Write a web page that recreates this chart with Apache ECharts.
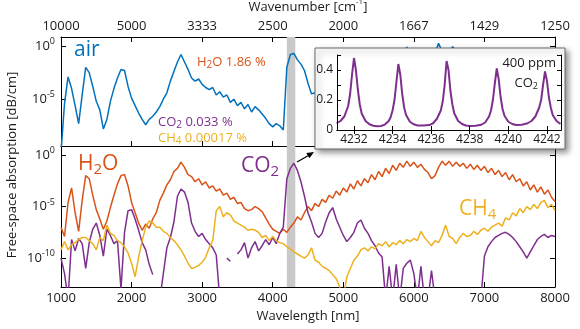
<!DOCTYPE html>
<html>
<head>
<meta charset="utf-8">
<script src="https://cdn.jsdelivr.net/npm/echarts@6/dist/echarts.min.js"></script>
<style>
  html, body { margin: 0; padding: 0; background: #fff; }
  #chart { width: 580px; height: 329px; }
</style>
</head>
<body>
<div id="chart"></div>
<script>
const FONT = '"Open Sans", "Noto Sans", sans-serif';
const INK = '#1a1a1a';

// Sampling grid of the broadband spectra: 1000–8000 nm in 50 nm steps
const wavelength = [];
for (let w = 1000; w <= 8000; w += 50) wavelength.push(w);

// log10 of free-space absorption [dB/cm]; one row per 1000 nm (20 samples), last row = 8000 nm
const airLog10 = [
  -10.0, -5.4, -2.9, -4.0, -5.6, -7.3, -4.6, -2.0, -2.5, -3.8, -5.2, -6.0, -7.8, -6.9, -5.2, -4.0, -3.0, -2.2, -2.3, -3.8,
  -4.9, -5.6, -6.3, -6.9, -7.4, -6.9, -6.6, -6.2, -5.7, -5.0, -4.4, -3.3, -2.4, -1.5, -0.8, -1.5, -2.2, -3.0, -3.3, -3.1,
  -3.6, -3.9, -4.1, -3.9, -4.6, -4.3, -4.8, -4.6, -5.3, -5.0, -5.6, -5.3, -5.9, -5.5, -6.2, -5.7, -6.0, -6.4, -6.8, -7.3,
  -7.6, -7.3, -7.5, -7.9, -2.0, -0.8, -0.7, -1.3, -1.7, -2.3, -3.5, -4.5, -4.4, -4.0, -3.7, -3.8, -3.2, -3.5, -2.9, -3.2,
  -2.6, -3.0, -2.3, -2.7, -2.0, -2.5, -1.8, -2.2, -1.5, -1.9, -1.2, -1.6, -0.9, -1.4, -0.7, -1.1, -0.6, -0.9, -0.1, -0.7,
  -0.5, -0.9, -0.6, -1.0, -1.4, -1.9, -0.6, 0.25, -0.5, -0.7, -0.5, -0.05, -0.5, -0.8, -0.6, -1.0, -0.7, -1.1, -0.8, -1.2,
  -0.9, -1.4, -1.0, -1.6, -1.2, -1.8, -1.4, -2.1, -1.6, -2.3, -2.0, -2.7, -2.3, -3.1, -2.6, -3.3, -2.8, -3.5, -3.1, -3.8,
  -4.2
];
const h2oLog10 = [
  -7.0, -7.9, -4.6, -3.2, -5.6, -7.4, -4.4, -2.0, -2.3, -3.9, -5.3, -6.2, -7.2, -6.4, -5.1, -3.9, -2.8, -2.0, -1.9, -3.0,
  -4.6, -5.6, -6.6, -7.3, -6.7, -7.1, -6.2, -5.6, -4.4, -3.7, -2.9, -2.4, -1.6, -1.3, -0.7, -1.2, -1.9, -2.1, -2.6, -2.3,
  -2.9, -2.6, -3.2, -3.0, -3.5, -3.3, -3.9, -3.7, -4.3, -4.1, -4.7, -4.6, -5.2, -5.4, -5.3, -5.0, -5.2, -5.5, -6.1, -6.7,
  -7.2, -7.4, -7.6, -7.2, -7.5, -7.0, -6.6, -6.0, -6.3, -5.6, -5.0, -5.4, -4.7, -5.0, -4.3, -4.6, -3.9, -4.2, -3.5, -3.9,
  -3.2, -3.6, -2.8, -3.3, -2.5, -3.0, -2.3, -2.7, -1.9, -2.4, -1.6, -2.1, -1.3, -1.8, -1.0, -1.5, -0.8, -1.2, -0.6, -1.1,
  -0.7, -1.2, -0.9, -1.4, -1.7, -2.3, -2.0, -1.2, -0.6, -1.0, -0.6, -1.1, -0.7, -1.1, -0.8, -1.3, -0.9, -1.4, -1.0, -1.5,
  -1.1, -1.7, -1.3, -1.9, -1.5, -2.1, -1.7, -2.4, -1.9, -2.6, -2.3, -3.0, -2.6, -3.4, -2.9, -3.6, -3.1, -3.8, -3.4, -4.1,
  -4.5
];
// null = no data (line broken); values far below the axis run off the bottom edge
const co2Log10 = [
  -10.0, -11.5, -14, -8.2, -9.3, -8.1, -8.6, -11.0, -8.5, -7.2, -6.6, -7.8, -9.8, -7.2, -7.8, -8.6, -8.3, -13, -7.5, -5.4,
  -5.3, -6.2, -7.3, -8.5, -9.2, -10.6, -11.6, null, -14, -11.5, -9.0, -8.0, -6.5, -4.0, -3.3, -3.6, -4.6, -6.6, -7.4, -7.9,
  -7.6, -8.2, -8.6, -9.0, -9.7, -14, null, -10.0, -10.3, null, -9.6, -9.2, -8.5, -10.0, -9.0, -8.4, -9.3, -8.8, -8.2, -8.7,
  -8.0, -8.6, -7.6, -7.0, -2.3, -1.3, -0.8, -1.5, -2.6, -4.0, -5.6, -6.5, -7.6, -8.0, -7.6, -6.5, -5.6, -5.1, -6.2, -7.0,
  -7.8, -8.4, -8.0, -7.5, -6.6, -6.3, -7.1, -7.6, -8.3, -8.8, -9.5, -9.9, -14, -10.8, -14, -10.6, -14, -11.0, -10.5, -10.2,
  -11.5, -14, -10.8, -14, -14, -11.2, -14, null, null, null, null, null, null, null, null, null, null, null, null, -14,
  -9.8, -8.9, -8.4, -8.0, -7.8, -7.6, -7.5, -7.7, -8.0, -8.4, -8.9, -9.4, -10.0, -9.4, -8.8, -8.2, -7.9, -7.7, -8.0, -7.8,
  -7.9
];
const ch4Log10 = [
  -9.2, -8.4, -9.2, -8.7, -8.5, -8.2, -8.0, -8.0, -8.3, -8.6, -9.2, -8.0, -8.3, -6.8, -7.6, -7.8, -8.3, -8.5, -8.9, -9.5,
  -10.5, -11.8, -9.9, -8.3, -7.0, -6.4, -6.6, -7.0, -7.0, -7.4, -7.6, -8.0, -8.3, -8.7, -9.2, -9.8, -10.5, -11.0, -10.9, -10.7,
  -10.4, -9.9, -9.0, -8.3, -5.4, -5.0, -6.0, -5.6, -5.8, -6.4, -6.6, -6.8, -7.0, -7.3, -7.2, -7.3, -7.5, -8.0, -7.8, -8.3,
  -7.9, -8.3, -8.5, -8.6, -8.9, -9.1, -9.4, -9.6, -9.8, -10.0, -9.7, -9.0, -10.2, -10.4, -10.8, -11.0, -11.2, -11.6, -12.0, -12.8,
  -14, -11.8, -11.0, -10.2, -9.8, -9.2, -9.0, -9.3, -8.9, -9.1, -8.6, -8.8, -8.4, -8.9, -8.5, -8.7, -8.3, -8.6, -8.2, -8.4,
  -8.1, -8.3, -7.4, -8.0, -8.4, -8.8, -8.3, -8.5, -7.8, -6.8, -7.9, -8.1, -8.6, -8.0, -7.6, -7.9, -7.8, -7.4, -7.7, -7.3,
  -7.1, -7.4, -7.0, -6.8, -6.6, -6.9, -6.1, -6.3, -5.6, -5.9, -5.2, -5.6, -5.0, -5.3, -4.8, -5.2, -4.6, -4.4, -5.1, -4.8,
  -5.4
];

// 400 ppm CO2 lines, 4231–4243 nm, absorption [dB/cm]
const insetWl = [
  4231.1, 4231.3, 4231.5, 4231.7, 4231.8, 4231.9, 4232.0, 4232.1, 4232.2, 4232.3, 4232.4, 4232.6, 4232.8,
  4233.0, 4233.2, 4233.4, 4233.6, 4233.8, 4233.9, 4234.0, 4234.1, 4234.2, 4234.3, 4234.4, 4234.5, 4234.6,
  4234.7, 4234.9, 4235.1, 4235.3, 4235.6, 4235.9, 4236.1, 4236.3, 4236.5, 4236.6, 4236.7, 4236.8, 4236.9,
  4237.0, 4237.1, 4237.2, 4237.4, 4237.6, 4237.8, 4238.0, 4238.3, 4238.6, 4238.8, 4239.0, 4239.1, 4239.2,
  4239.3, 4239.4, 4239.5, 4239.6, 4239.7, 4239.8, 4240.0, 4240.2, 4240.4, 4240.7, 4241.0, 4241.2, 4241.4,
  4241.6, 4241.7, 4241.8, 4241.9, 4242.0, 4242.1, 4242.2, 4242.3, 4242.5, 4242.7
];
const insetAbs = [
  0.045, 0.06, 0.09, 0.16, 0.24, 0.37, 0.48, 0.40, 0.27, 0.17, 0.11, 0.06, 0.038,
  0.028, 0.025, 0.027, 0.036, 0.06, 0.085, 0.13, 0.20, 0.32, 0.44, 0.37, 0.24, 0.15,
  0.10, 0.055, 0.038, 0.030, 0.030, 0.033, 0.045, 0.075, 0.13, 0.19, 0.30, 0.46, 0.40,
  0.26, 0.17, 0.11, 0.06, 0.04, 0.03, 0.027, 0.028, 0.035, 0.05, 0.09, 0.13, 0.20,
  0.31, 0.41, 0.34, 0.22, 0.14, 0.095, 0.055, 0.04, 0.033, 0.035, 0.045, 0.06, 0.09,
  0.15, 0.20, 0.30, 0.39, 0.33, 0.22, 0.15, 0.10, 0.06, 0.04
];

// Axis ticks and labels
const wavelengthTicks = [1000, 2000, 3000, 4000, 5000, 6000, 7000, 8000];
const wavenumberLabels = ['10000', '5000', '3333', '2500', '2000', '1667', '1429', '1250'];
const logTicksTop = [1e-5, 1];
const logTicksBottom = [1e-10, 1e-5, 1];
const insetXTicks = [4232, 4234, 4236, 4238, 4240, 4242];
const insetShaded = [[4231.12, 4235.5], [4237.8, 4242.73]];
const bandNm = [4200, 4320];

const toPairs = (xs, logs) => xs.map((x, i) => [x, logs[i] == null ? null : Math.pow(10, logs[i])]);

const C = { air: '#0072BD', h2o: '#D95319', co2: '#7E2F8E', ch4: '#EDB120' };

const axisLine = { show: true, lineStyle: { color: '#000', width: 1 } };
const tick = (len, extra) => Object.assign({ show: true, inside: true, length: len, lineStyle: { color: '#000', width: 1 } }, extra || {});
const labelFont = { fontFamily: FONT, fontSize: 13, color: INK };
const plain = v => String(v);

const logLabel = (vals) => ({
  show: true, customValues: vals, margin: 6,
  formatter: v => '{b|10}{s|' + Math.round(Math.log10(v)) + '}',
  rich: {
    b: { fontFamily: FONT, fontSize: 13, color: INK, lineHeight: 18 },
    s: { fontFamily: FONT, fontSize: 9, color: INK, lineHeight: 9, verticalAlign: 'top' }
  }
});

const topMin = Math.pow(10, -9.4), topMax = Math.pow(10, 0.85);
const botMin = Math.pow(10, -12.8), botMax = Math.pow(10, 0.87);

const option = {
  animation: false,
  grid: [
    { left: 61, top: 37, width: 494, height: 109, outerBoundsMode: 'none' },
    { left: 61, top: 146, width: 494, height: 141, outerBoundsMode: 'none' },
    { left: 337, top: 55, width: 224, height: 75, outerBoundsMode: 'none', z: 11 }
  ],
  xAxis: [
    { gridIndex: 0, type: 'value', position: 'top', min: 1000, max: 8000, interval: 1000,
      axisLine, axisTick: tick(5), splitLine: { show: false },
      axisLabel: Object.assign({ margin: 4, formatter: v => wavenumberLabels[wavelengthTicks.indexOf(v)] }, labelFont),
      name: '{a|Wavenumber [cm}{s|-1}{a|]}', nameLocation: 'middle', nameGap: 21,
      nameTextStyle: { rich: {
        a: { fontFamily: FONT, fontSize: 13, color: INK, lineHeight: 18 },
        s: { fontFamily: FONT, fontSize: 8, color: INK, lineHeight: 9, verticalAlign: 'top' } } } },
    { gridIndex: 0, type: 'value', position: 'bottom', min: 1000, max: 8000, interval: 1000,
      axisLine, axisTick: tick(5), axisLabel: { show: false }, splitLine: { show: false } },
    { gridIndex: 1, type: 'value', position: 'bottom', min: 1000, max: 8000, interval: 1000,
      axisLine, axisTick: tick(5), splitLine: { show: false },
      axisLabel: Object.assign({ margin: 5, formatter: plain }, labelFont),
      name: 'Wavelength [nm]', nameLocation: 'middle', nameGap: 23,
      nameTextStyle: labelFont },
    { gridIndex: 2, type: 'value', position: 'bottom', min: insetShaded[0][0], max: insetShaded[1][1], z: 13,
      axisLine, axisTick: tick(4, { customValues: insetXTicks }), splitLine: { show: false },
      axisLabel: { customValues: insetXTicks, formatter: plain, margin: 4, fontFamily: FONT, fontSize: 12, color: INK } },
    { gridIndex: 2, type: 'value', position: 'top', min: insetShaded[0][0], max: insetShaded[1][1], z: 13,
      axisLine, axisTick: tick(4, { customValues: insetXTicks }), splitLine: { show: false }, axisLabel: { show: false } }
  ],
  yAxis: [
    { gridIndex: 0, type: 'log', position: 'left', min: topMin, max: topMax,
      axisLine, axisTick: tick(5, { customValues: logTicksTop }), splitLine: { show: false }, minorTick: { show: false },
      axisLabel: logLabel(logTicksTop) },
    { gridIndex: 0, type: 'log', position: 'right', min: topMin, max: topMax,
      axisLine, axisTick: tick(5, { customValues: logTicksTop }), splitLine: { show: false }, axisLabel: { show: false } },
    { gridIndex: 1, type: 'log', position: 'left', min: botMin, max: botMax,
      axisLine, axisTick: tick(5, { customValues: logTicksBottom }), splitLine: { show: false }, minorTick: { show: false },
      axisLabel: logLabel(logTicksBottom) },
    { gridIndex: 1, type: 'log', position: 'right', min: botMin, max: botMax,
      axisLine, axisTick: tick(5, { customValues: logTicksBottom }), splitLine: { show: false }, axisLabel: { show: false } },
    { gridIndex: 2, type: 'value', position: 'left', min: 0, max: 0.5, interval: 0.1, z: 13,
      axisLine, axisTick: tick(4), splitLine: { show: false },
      axisLabel: { margin: 4, fontFamily: FONT, fontSize: 12, color: INK,
        formatter: v => (Math.round(v * 10) % 2 === 0 ? String(Math.round(v * 10) / 10) : '') } },
    { gridIndex: 2, type: 'value', position: 'right', min: 0, max: 0.5, interval: 0.1, z: 13,
      axisLine, axisTick: tick(4), splitLine: { show: false }, axisLabel: { show: false } }
  ],
  series: [
    // grey marker of the 4.2–4.3 µm CO2 band, both panels
    { type: 'line', xAxisIndex: 0, yAxisIndex: 0, data: [], z: 1, silent: true,
      markArea: { silent: true, itemStyle: { color: '#c9c9c9' }, data: [[{ xAxis: bandNm[0] }, { xAxis: bandNm[1] }]] } },
    { type: 'line', xAxisIndex: 2, yAxisIndex: 2, data: [], z: 1, silent: true,
      markArea: { silent: true, itemStyle: { color: '#c9c9c9' }, data: [[{ xAxis: bandNm[0] }, { xAxis: bandNm[1] }]] } },
    { name: 'air', type: 'line', xAxisIndex: 0, yAxisIndex: 0, data: toPairs(wavelength, airLog10),
      showSymbol: false, z: 2, lineStyle: { color: C.air, width: 1.5 } },
    { name: 'H2O', type: 'line', xAxisIndex: 2, yAxisIndex: 2, data: toPairs(wavelength, h2oLog10),
      showSymbol: false, z: 2, lineStyle: { color: C.h2o, width: 1.5 } },
    { name: 'CO2', type: 'line', xAxisIndex: 2, yAxisIndex: 2, data: toPairs(wavelength, co2Log10),
      showSymbol: false, z: 3, connectNulls: false, lineStyle: { color: C.co2, width: 1.5 } },
    { name: 'CH4', type: 'line', xAxisIndex: 2, yAxisIndex: 2, data: toPairs(wavelength, ch4Log10),
      showSymbol: false, z: 4, lineStyle: { color: C.ch4, width: 1.5 } },
    // inset: shaded windows + 400 ppm CO2 lines
    { type: 'line', xAxisIndex: 3, yAxisIndex: 4, data: [], z: 11, silent: true,
      markArea: { silent: true, itemStyle: { color: '#e2e2e2' },
        data: insetShaded.map(r => [{ xAxis: r[0] }, { xAxis: r[1] }]) } },
    { name: 'CO2 400 ppm', type: 'line', xAxisIndex: 3, yAxisIndex: 4,
      data: insetWl.map((x, i) => [x, insetAbs[i]]),
      showSymbol: false, z: 12, lineStyle: { color: C.co2, width: 2 } }
  ],
  graphic: [
    { type: 'rect', z: 10, shape: { x: 315, y: 48, width: 250, height: 101 },
      style: { fill: '#fff', stroke: '#6a6a6a', lineWidth: 1,
        shadowBlur: 6, shadowOffsetX: 3, shadowOffsetY: 3, shadowColor: 'rgba(0,0,0,0.45)' } },
    { type: 'text', z: 20, x: 12, y: 165, rotation: Math.PI / 2,
      style: { text: 'Free-space absorption [dB/cm]', fill: INK, font: '13px ' + FONT, align: 'center', verticalAlign: 'middle' } },
    { type: 'text', z: 20, x: 74, y: 50,
      style: { text: 'air', fill: C.air, font: '21px ' + FONT, align: 'left', verticalAlign: 'middle' } },
    { type: 'text', z: 20, x: 197, y: 62,
      style: { text: '{n|H}{d|2}{n|O 1.86 %}', align: 'left', verticalAlign: 'middle',
        rich: { n: { fill: C.h2o, fontFamily: FONT, fontSize: 13, lineHeight: 16 },
                d: { fill: C.h2o, fontFamily: FONT, fontSize: 10, lineHeight: 10, verticalAlign: 'bottom' } } } },
    { type: 'text', z: 20, x: 158, y: 122,
      style: { text: '{n|CO}{d|2}{n| 0.033 %}', align: 'left', verticalAlign: 'middle',
        rich: { n: { fill: C.co2, fontFamily: FONT, fontSize: 13, lineHeight: 16 },
                d: { fill: C.co2, fontFamily: FONT, fontSize: 10, lineHeight: 10, verticalAlign: 'bottom' } } } },
    { type: 'text', z: 20, x: 158, y: 138,
      style: { text: '{n|CH}{d|4}{n| 0.00017 %}', align: 'left', verticalAlign: 'middle',
        rich: { n: { fill: C.ch4, fontFamily: FONT, fontSize: 13, lineHeight: 16 },
                d: { fill: C.ch4, fontFamily: FONT, fontSize: 10, lineHeight: 10, verticalAlign: 'bottom' } } } },
    { type: 'text', z: 20, x: 78, y: 164,
      style: { text: '{n|H}{d|2}{n|O}', align: 'left', verticalAlign: 'middle',
        rich: { n: { fill: C.h2o, fontFamily: FONT, fontSize: 21, lineHeight: 26 },
                d: { fill: C.h2o, fontFamily: FONT, fontSize: 15, lineHeight: 14, verticalAlign: 'bottom' } } } },
    { type: 'text', z: 20, x: 241, y: 166,
      style: { text: '{n|CO}{d|2}', align: 'left', verticalAlign: 'middle',
        rich: { n: { fill: C.co2, fontFamily: FONT, fontSize: 21, lineHeight: 26 },
                d: { fill: C.co2, fontFamily: FONT, fontSize: 15, lineHeight: 14, verticalAlign: 'bottom' } } } },
    { type: 'text', z: 20, x: 459, y: 209,
      style: { text: '{n|CH}{d|4}', align: 'left', verticalAlign: 'middle',
        rich: { n: { fill: C.ch4, fontFamily: FONT, fontSize: 21, lineHeight: 26 },
                d: { fill: C.ch4, fontFamily: FONT, fontSize: 15, lineHeight: 14, verticalAlign: 'bottom' } } } },
    { type: 'text', z: 20, x: 556, y: 63,
      style: { text: '400 ppm', fill: INK, font: '13px ' + FONT, align: 'right', verticalAlign: 'middle' } },
    { type: 'text', z: 20, x: 538, y: 83,
      style: { text: '{n|CO}{d|2}', align: 'right', verticalAlign: 'middle',
        rich: { n: { fill: INK, fontFamily: FONT, fontSize: 13, lineHeight: 16 },
                d: { fill: INK, fontFamily: FONT, fontSize: 9, lineHeight: 9, verticalAlign: 'bottom' } } } },
    // pointer from the CO2 band to the inset
    { type: 'line', z: 20, shape: { x1: 297, y1: 162, x2: 308.5, y2: 155.4 },
      style: { stroke: '#000', lineWidth: 1.2 } },
    { type: 'polygon', z: 20, shape: { points: [[314, 152], [309.5, 158.2], [306.3, 152.9]] },
      style: { fill: '#000' } }
  ]
};

const chart = echarts.init(document.getElementById('chart'), null, { renderer: 'canvas' });
chart.setOption(option);
</script>
</body>
</html>
